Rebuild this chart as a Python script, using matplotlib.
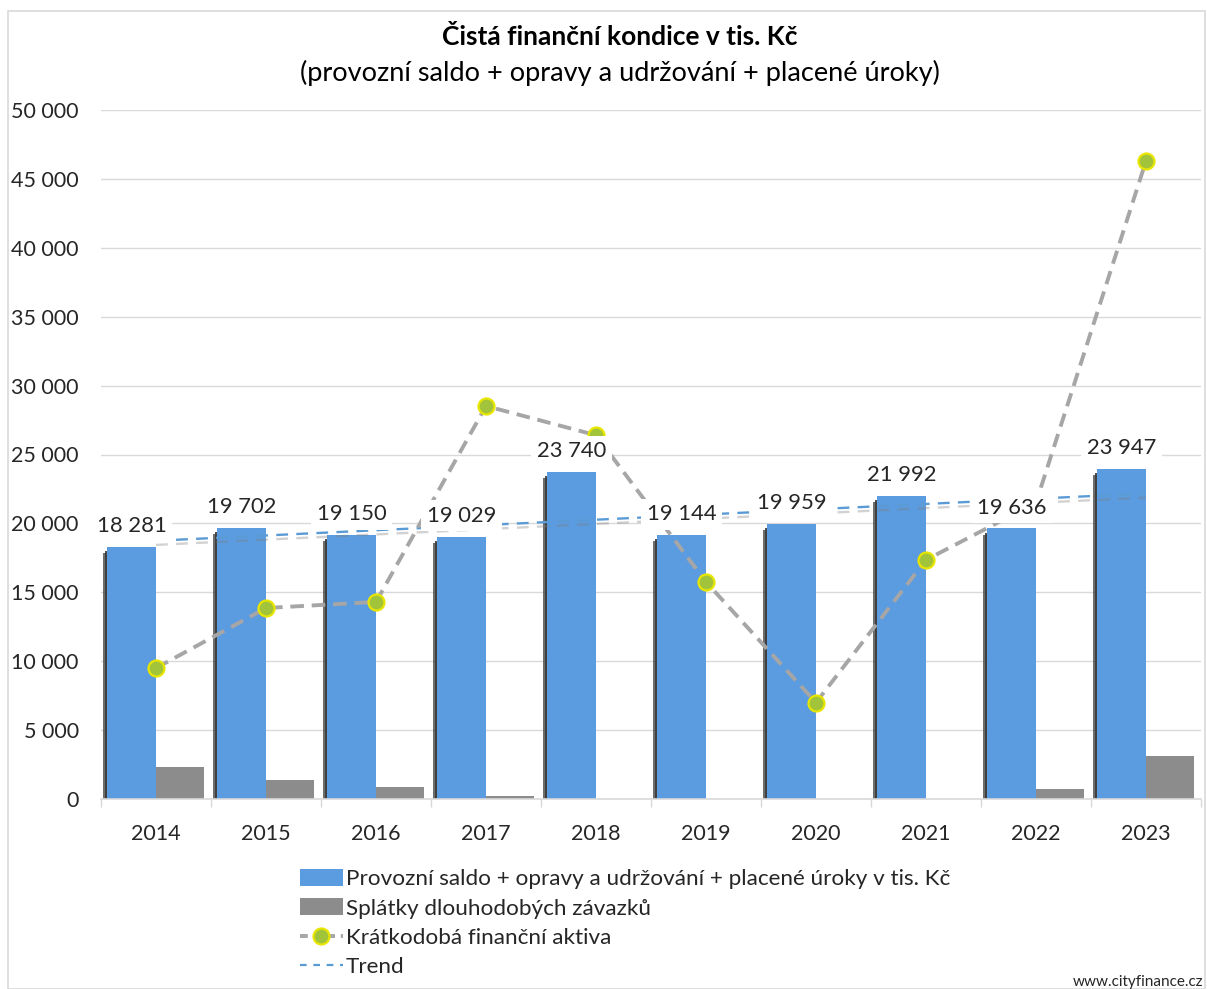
import numpy as np
import matplotlib
matplotlib.use("Agg")
import matplotlib.pyplot as plt
import matplotlib.patheffects as pe
from matplotlib.lines import Line2D
from matplotlib.patches import Patch, Rectangle

plt.rcParams['font.family'] = ['Lato', 'DejaVu Sans']

years = ['2014', '2015', '2016', '2017', '2018', '2019', '2020', '2021', '2022', '2023']
saldo = [18281, 19702, 19150, 19029, 23740, 19144, 19959, 21992, 19636, 23947]
splatky = [2300, 1380, 870, 220, 0, 0, 0, 0, 730, 3120]
aktiva = [9500, 13860, 14300, 28520, 26400, 15750, 7000, 17350, 21500, 46300]
yticks = [0, 5000, 10000, 15000, 20000, 25000, 30000, 35000, 40000, 45000, 50000]

title1 = "Čistá finanční kondice v tis. Kč"
title2 = "(provozní saldo + opravy a udržování + placené úroky)"
leg_labels = ["Provozní saldo + opravy a udržování + placené úroky v tis. Kč",
              "Splátky dlouhodobých závazků",
              "Krátkodobá finanční aktiva",
              "Trend"]

BLUE = '#5B9BDF'
GRAY = '#8C8C8C'
TXT = '#262626'
MFC = '#A2C43A'
MEC = '#E8E600'

W, H = 1207, 989
fig = plt.figure(figsize=(W / 100, H / 100), dpi=100)
ax = fig.add_axes([101 / W, 1 - 799 / H, 1100 / W, 689 / H])

x = np.arange(len(years))
s = np.array(saldo, dtype=float)
bw = 0.445

# shadow behind blue bars
ax.bar(x - 0.04, s - 450, width=-bw, align='edge', color='#3C3C3C', alpha=0.75, zorder=1.5)
ax.bar(x - 0.02, s - 300, width=-bw, align='edge', color='#3C3C3C', alpha=0.9, zorder=1.6)
ax.bar(x, s, width=-bw, align='edge', color=BLUE, zorder=2)
ax.bar(x, splatky, width=0.44, align='edge', color=GRAY, zorder=2)

# trend line (linear fit of blue series)
k, q = np.polyfit(x, s, 1)
ax.plot(x, k * x + q, color='#5B9BD5', lw=1.7, ls=(0, (5, 3.5)), zorder=3,
        path_effects=[pe.SimpleLineShadow(offset=(0, -3), shadow_color='#7F7F7F', alpha=0.35),
                      pe.Normal()])

# short-term financial assets
ax.plot(x, aktiva, color='#A6A6A6', lw=2.8, ls=(0, (3.5, 2)), zorder=4)
ax.plot(x, aktiva, ls='none', marker='o', ms=11.5, mfc=MFC, mec=MEC, mew=1.6, zorder=5)

for xi, v in zip(x, saldo):
    lab = f"{v:,}".replace(",", " ")
    ax.annotate(lab, (xi - bw / 2, v), xytext=(0, 15), textcoords='offset points',
                ha='center', va='center', fontsize=15.8, color=TXT, zorder=6,
                bbox=dict(facecolor='white', edgecolor='none', pad=4))

ax.set_xlim(-0.5, len(years) - 0.5)
ax.set_ylim(0, 50000)
ax.set_yticks(yticks)
ax.set_yticklabels([f"{t:,}".replace(",", " ") for t in yticks], fontsize=15.5, color=TXT)
ax.set_xticks(x)
ax.set_xticklabels(years, fontsize=15.5, color=TXT)
ax.set_xticks(np.arange(-0.5, len(years)), minor=True)
ax.tick_params(axis='x', which='major', length=0, pad=18)
ax.tick_params(axis='x', which='minor', length=6, color='#D9D9D9', width=1)
ax.tick_params(axis='y', length=0, pad=16)
ax.grid(axis='y', color='#D9D9D9', lw=1, zorder=0)
ax.set_axisbelow(True)
for sp in ['left', 'right', 'top']:
    ax.spines[sp].set_visible(False)
ax.spines['bottom'].set_color('#D9D9D9')
ax.spines['bottom'].set_linewidth(1.2)

fig.text(620 / W, 1 - 37 / H, title1, ha='center', va='center', fontsize=19, fontweight='bold', color='black')
fig.text(620 / W, 1 - 73 / H, title2, ha='center', va='center', fontsize=19.5, color='black')

handles = [Patch(facecolor=BLUE, edgecolor='none'),
           Patch(facecolor=GRAY, edgecolor='none'),
           Line2D([], [], color='#A6A6A6', lw=2.8, ls=(0, (2, 1.5)), marker='o', ms=11.5,
                  mfc=MFC, mec=MEC, mew=1.6),
           Line2D([], [], color='#5B9BD5', lw=1.6, ls=(0, (3, 3)))]
fig.legend(handles, leg_labels, loc='upper left', bbox_to_anchor=(300 / W, 1 - 869 / H),
           frameon=False, fontsize=16.2, handlelength=1.9, handleheight=0.8,
           handletextpad=0.15, labelspacing=0.39, borderaxespad=0, borderpad=0,
           labelcolor=TXT)

fig.text(1203 / W, 1 - 982 / H, "www.cityfinance.cz", ha='right', va='center', fontsize=11, color=TXT)

fig.patches.append(Rectangle((8 / W, 0), (1205 - 8) / W, 1 - 11 / H, transform=fig.transFigure,
                             fill=False, edgecolor='#D9D9D9', lw=1.2))

fig.savefig('out.png', dpi=100, facecolor='white')
